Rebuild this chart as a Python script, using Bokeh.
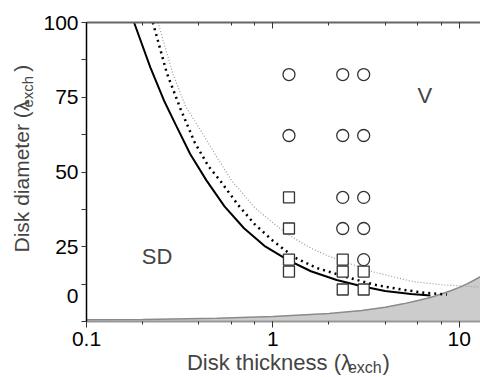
import math
from bokeh.plotting import figure
from bokeh.models import Range1d, LogAxis, FixedTicker, LogTicker, Label
from bokeh.embed import file_html
from bokeh.resources import INLINE

# ---- data ----
thk_shade = [0.1, 0.2, 0.5, 1, 2, 3, 4, 5, 6, 7, 8, 9, 10, 11, 12, 13]
d_shade = [0.6, 0.7, 1.1, 1.7, 2.7, 3.7, 4.8, 5.9, 7.0, 8.0, 9.2, 10.3, 11.4, 12.6, 13.8, 15.0]

thk_solid = [0.18, 0.22, 0.26, 0.3, 0.36, 0.44, 0.55, 0.7, 0.9, 1.2, 1.6, 2.2, 3.0, 4.0, 5.5, 7.0]
d_solid = [100, 85, 74, 66, 56, 47.2, 38.5, 31.2, 25.3, 20.6, 16.8, 13.9, 11.8, 10.2, 9.2, 8.7]

thk_dot = [0.227, 0.27, 0.32, 0.38, 0.45, 0.52, 0.65, 0.8, 1.0, 1.3, 1.7, 2.5, 3.5, 5.0, 6.5, 8.6]
d_dot = [100, 83, 71, 60, 52, 47.2, 39, 32.5, 27, 21.5, 18, 14.8, 12.3, 10.6, 9.6, 9.0]

thk_lt = [0.242, 0.29, 0.34, 0.41, 0.5, 0.6, 0.8, 1.0, 1.19, 1.6, 2.0, 2.5, 3.5, 5.6, 8.0, 13.0]
d_lt = [100, 83, 72, 63.9, 55, 47.2, 38, 33, 29.3, 24.5, 21.8, 19.7, 16.5, 13.4, 12.3, 11.5]

circ_x = [1.22, 1.22, 2.37, 2.37, 2.37, 2.37, 3.07, 3.07, 3.07, 3.07, 3.07]
circ_y = [82.6, 62.2, 82.6, 62.2, 41.5, 31.1, 82.6, 62.2, 41.5, 31.1, 20.7]
sq_x = [1.22, 1.22, 1.22, 1.22, 2.37, 2.37, 2.37, 3.07, 3.07]
sq_y = [41.5, 31.1, 20.7, 16.7, 20.7, 16.7, 10.7, 16.7, 10.7]

# y tick labels as printed in the original (its "0" sits above the axis bottom)
y_tick_pos = [8.4, 25, 50, 75, 100]
y_tick_lab = ["0", "25", "50", "75", "100"]
y_tick_marks = [0, 12.5, 25, 37.5, 50, 62.5, 75, 87.5, 100]

FONT = "Liberation Sans"
NB = "\u00a0"

p = figure(width=480, height=377, x_axis_type="log",
           x_range=Range1d(0.1, 13), y_range=Range1d(0, 100),
           output_backend="svg", toolbar_location=None,
           min_border_left=86, min_border_right=0, min_border_top=22, min_border_bottom=56)
p.outline_line_color = None
p.grid.visible = False
p.background_fill_color = "white"
p.border_fill_color = "white"

# shaded region
p.varea(x=thk_shade, y1=[0] * len(thk_shade), y2=d_shade, fill_color="#cccccc")
p.line(thk_shade, d_shade, line_color="#8a8a8a", line_width=1.5)

# boundaries
p.line(thk_lt, d_lt, line_color="#999999", line_width=1.2, line_dash="1 2")
p.line(thk_dot, d_dot, line_color="black", line_width=2.5, line_dash="2 4")
p.line(thk_solid, d_solid, line_color="black", line_width=2)

# markers
p.scatter(circ_x, circ_y, marker="circle", size=12, fill_color="white",
          line_color="#333333", line_width=1.3)
p.scatter(sq_x, sq_y, marker="square", size=11, fill_color="white",
          line_color="#333333", line_width=1.3)

# bottom axis
xa = p.xaxis[0]
xa.ticker = LogTicker()
xa.axis_line_color = "#999999"
xa.axis_line_width = 2
xa.major_tick_line_color = "#333333"
xa.minor_tick_line_color = "#333333"
xa.major_tick_out = 6
xa.major_tick_in = 0
xa.minor_tick_out = 3
xa.minor_tick_in = 0
xa.major_label_text_font = FONT
xa.major_label_text_font_size = "21px"
xa.major_label_text_color = "black"
xa.major_label_standoff = 4
xa.major_label_overrides = {0.1: "0.1", 1: "1", 10: "10"}

# top axis
ta = LogAxis(ticker=LogTicker())
ta.axis_line_color = "#666666"
ta.axis_line_width = 2
ta.major_tick_line_color = "#333333"
ta.minor_tick_line_color = "#333333"
ta.major_tick_in = 6
ta.major_tick_out = 0
ta.minor_tick_in = 3
ta.minor_tick_out = 0
ta.major_label_text_font_size = "1px"
ta.major_label_text_color = None
ta.major_label_standoff = 0
p.add_layout(ta, "above")

# left axis
ya = p.yaxis[0]
ya.ticker = FixedTicker(ticks=y_tick_pos, minor_ticks=y_tick_marks)
ya.major_label_overrides = dict(zip(y_tick_pos, y_tick_lab))
ya.axis_line_color = "black"
ya.axis_line_width = 1.5
ya.major_tick_line_color = None
ya.minor_tick_line_color = "#333333"
ya.major_tick_out = 0
ya.major_tick_in = 0
ya.minor_tick_out = 5
ya.minor_tick_in = 0
ya.major_label_text_font = FONT
ya.major_label_text_font_size = "21px"
ya.major_label_text_color = "black"
ya.major_label_standoff = 3

# region labels
p.add_layout(Label(x=0.239, y=21.7, text="SD", text_align="center",
                   text_baseline="middle", text_font=FONT, text_font_size="22px"))
p.add_layout(Label(x=6.54, y=75.6, text="V", text_align="center",
                   text_baseline="middle", text_font=FONT, text_font_size="22px"))

# x axis title with subscript (gap of no-break spaces for the subscript)
XA0 = 0.346
p.add_layout(Label(x=XA0, y=0, y_offset=-41, text="Disk thickness (\u03bb" + NB * 5 + ")",
                   text_align="left", text_baseline="middle",
                   text_font=FONT, text_font_size="22px"), "below")
p.add_layout(Label(x=XA0, y=0, x_offset=161, y_offset=-46, text="exch", text_align="left",
                   text_baseline="middle", text_font=FONT, text_font_size="16px"), "above")

# y axis title with subscript (rotated)
A = math.pi / 2
p.add_layout(Label(x=0.1, y=0, x_offset=-65, y_offset=69, angle=A,
                   text="Disk diameter (\u03bb" + NB * 5 + ")", text_align="left",
                   text_baseline="middle", text_font=FONT, text_font_size="21px"), "left")
p.add_layout(Label(x=0.1, y=0, x_offset=-59, y_offset=69 + 145, angle=A,
                   text="exch", text_align="left",
                   text_baseline="middle", text_font=FONT, text_font_size="15px"), "left")

open("out.html", "w").write(file_html(p, INLINE))
